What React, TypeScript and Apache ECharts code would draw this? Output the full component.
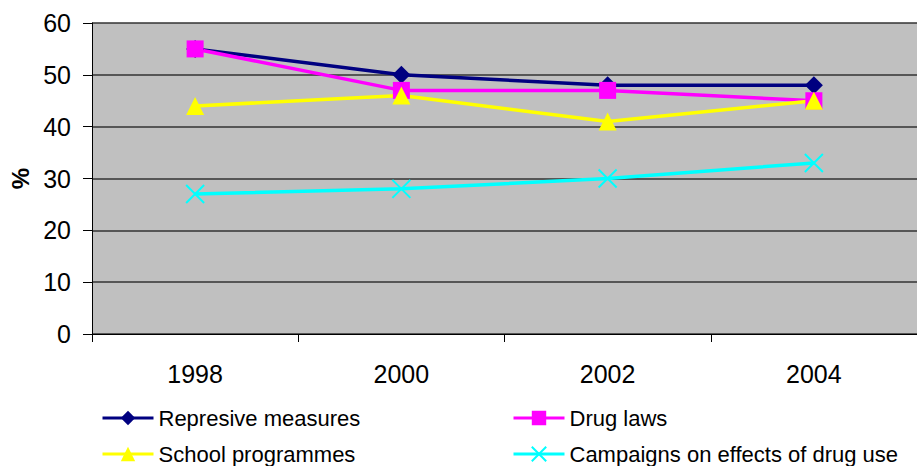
import React, { useEffect, useRef } from "react";
import * as echarts from "echarts";

const categories = ["1998", "2000", "2002", "2004"];
const represive = [55, 50, 48, 48];
const drugLaws = [55, 47, 47, 45];
const school = [44, 46, 41, 45];
const campaigns = [27, 28, 30, 33];
const yTicks = { min: 0, max: 60, interval: 10 };

const FONT = "Liberation Sans, Arial, sans-serif";
const CROSS = "path://M0,0L10,10M10,0L0,10";

export default function App() {
  const ref = useRef<HTMLDivElement>(null);
  useEffect(() => {
    const chart = echarts.init(ref.current!, null, { renderer: "svg" });
    const mk = (name: string, data: number[], color: string, symbol: string, size: number, extra: any = {}) => ({
      name,
      type: "line",
      data,
      symbol,
      symbolSize: size,
      lineStyle: { color, width: 3.5 },
      itemStyle: { color, ...extra },
      emphasis: { disabled: true },
    });
    const legendBase = {
      orient: "vertical",
      top: 407,
      height: 60,
      padding: 0,
      itemWidth: 51,
      itemHeight: 18,
      itemGap: 14,
      lineStyle: { width: 3 },
      textStyle: { fontSize: 22, color: "#000", fontFamily: FONT },
    };
    chart.setOption({
      animation: false,
      textStyle: { fontFamily: FONT },
      grid: {
        left: 90,
        right: 0,
        top: 23,
        bottom: 132,
        show: true,
        backgroundColor: "#C0C0C0",
        borderWidth: 0,
      },
      xAxis: {
        type: "category",
        data: categories,
        boundaryGap: true,
        axisLine: { lineStyle: { color: "#000", width: 1 } },
        axisTick: { show: true, length: 8, lineStyle: { color: "#000" } },
        axisLabel: { color: "#000", fontSize: 25, margin: 27, fontFamily: FONT },
        splitLine: { show: false },
      },
      yAxis: {
        type: "value",
        min: yTicks.min,
        max: yTicks.max,
        interval: yTicks.interval,
        name: "%",
        nameLocation: "middle",
        nameGap: 60,
        nameRotate: 90,
        nameTextStyle: { fontSize: 24, fontWeight: "bold", color: "#000", fontFamily: FONT },
        axisLine: { show: true, lineStyle: { color: "#000", width: 1 } },
        axisTick: { show: true, length: 9, lineStyle: { color: "#000" } },
        axisLabel: { color: "#000", fontSize: 25, margin: 21, fontFamily: FONT },
        splitLine: { show: true, lineStyle: { color: "#333", width: 1.5 } },
      },
      legend: [
        { ...legendBase, left: 101, data: ["Represive measures", "School programmes"] },
        { ...legendBase, left: 512, data: ["Drug laws", "Campaigns on effects of drug use"] },
      ],
      series: [
        mk("Represive measures", represive, "#000080", "diamond", 18),
        mk("Drug laws", drugLaws, "#FF00FF", "rect", 17),
        mk("School programmes", school, "#FFFF00", "triangle", 18),
        mk("Campaigns on effects of drug use", campaigns, "#00FFFF", CROSS, 18, {
          borderColor: "#00FFFF",
          borderWidth: 2,
        }),
      ],
    });
    return () => chart.dispose();
  }, []);
  return <div ref={ref} style={{ width: 917, height: 466, position: "absolute", left: 0, top: 0 }} />;
}
